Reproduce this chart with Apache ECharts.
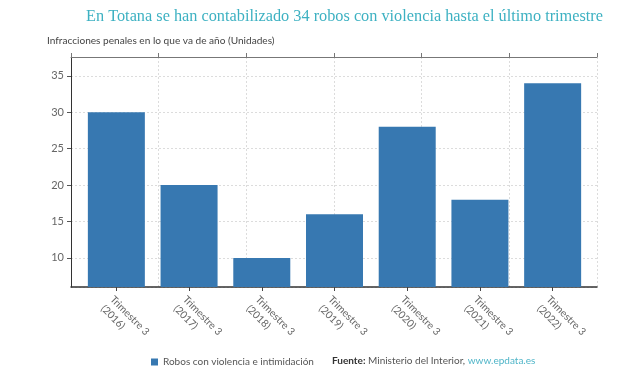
<!DOCTYPE html>
<html>
<head>
<meta charset="utf-8">
<script src="https://cdn.jsdelivr.net/npm/echarts@6/dist/echarts.min.js"></script>
<style>html,body{margin:0;padding:0;background:#fff}#c{width:640px;height:375px}</style>
</head>
<body>
<div id="c"></div>
<script>
const titleText = 'En Totana se han contabilizado 34 robos con violencia hasta el último trimestre';
const subtitleText = 'Infracciones penales en lo que va de año (Unidades)';
const categories = ['Trimestre 3\n(2016)','Trimestre 3\n(2017)','Trimestre 3\n(2018)','Trimestre 3\n(2019)','Trimestre 3\n(2020)','Trimestre 3\n(2021)','Trimestre 3\n(2022)'];
const seriesName = 'Robos con violencia e intimidación';
const values = [30, 20, 10, 16, 28, 18, 34];
const yMin = 6, yMax = 37.6;
const topTicks = [0, 6];

const chart = echarts.init(document.getElementById('c'), null, {renderer: 'canvas'});
const gridLine = {show: true, lineStyle: {color: '#dcdcdc', type: [2, 2], width: 1}};
chart.setOption({
  animation: false,
  backgroundColor: '#fff',
  title: [
    {text: titleText, left: 86, top: 9, padding: 0, textStyle: {fontFamily: 'Liberation Serif', fontWeight: 'normal', fontSize: 16.3, color: '#3db1c2'}},
    {text: subtitleText, left: 47, top: 36, padding: 0, textStyle: {fontFamily: 'Lato', fontWeight: 'normal', fontSize: 10.1, color: '#444'}}
  ],
  legend: {
    data: [seriesName], left: 146, top: 352, icon: 'rect', itemWidth: 7, itemHeight: 7, itemGap: 4,
    textStyle: {fontFamily: 'Lato', fontSize: 10, color: '#555'}
  },
  graphic: [{
    type: 'text', left: 332, top: 356,
    style: {
      text: '{b|Fuente:} Ministerio del Interior, {l|www.epdata.es}',
      rich: {
        b: {fontFamily: 'Lato', fontSize: 10, fontWeight: 'bold', fill: '#333'},
        l: {fontFamily: 'Lato', fontSize: 10, fill: '#4fb5c8'}
      },
      fontFamily: 'Lato', fontSize: 10, fill: '#555'
    }
  }],
  grid: [
    {left: 71, right: 43, top: 57, bottom: 88},
    {left: 80, right: 51, top: 57, bottom: 88}
  ],
  xAxis: [
    {gridIndex: 0, type: 'value', position: 'top', min: topTicks[0], max: topTicks[1], interval: 1,
     axisLine: {show: true, lineStyle: {color: '#777', width: 1}},
     axisTick: {show: true, length: 4, lineStyle: {color: '#777'}},
     axisLabel: {show: false}, splitLine: gridLine},
    {gridIndex: 0, type: 'value', position: 'bottom', min: topTicks[0], max: topTicks[1],
     axisLine: {show: true, lineStyle: {color: '#333', width: 1.5}},
     axisTick: {show: false}, axisLabel: {show: false}, splitLine: {show: false}},
    {gridIndex: 1, type: 'category', data: categories, position: 'bottom',
     axisLine: {show: false},
     axisTick: {show: true, alignWithLabel: true, length: 4, lineStyle: {color: '#444'}},
     axisLabel: {rotate: -45, margin: 6, verticalAlign: 'top', fontFamily: 'Lato', fontSize: 10.3, color: '#666', lineHeight: 13, interval: 0}}
  ],
  yAxis: [
    {gridIndex: 0, type: 'value', min: yMin, max: yMax,
     axisLine: {show: true, lineStyle: {color: '#333', width: 1}},
     axisTick: {show: true, length: 4, lineStyle: {color: '#555'}},
     axisLabel: {showMinLabel: false, showMaxLabel: false, margin: 7, fontFamily: 'Lato', fontSize: 11, color: '#666'},
     splitLine: gridLine},
    {gridIndex: 1, type: 'value', min: yMin, max: yMax, show: false, splitLine: {show: false}}
  ],
  series: [{
    name: seriesName, type: 'bar', xAxisIndex: 2, yAxisIndex: 1,
    data: values, barWidth: 57, itemStyle: {color: '#3778b1'}
  }]
});
</script>
</body>
</html>
